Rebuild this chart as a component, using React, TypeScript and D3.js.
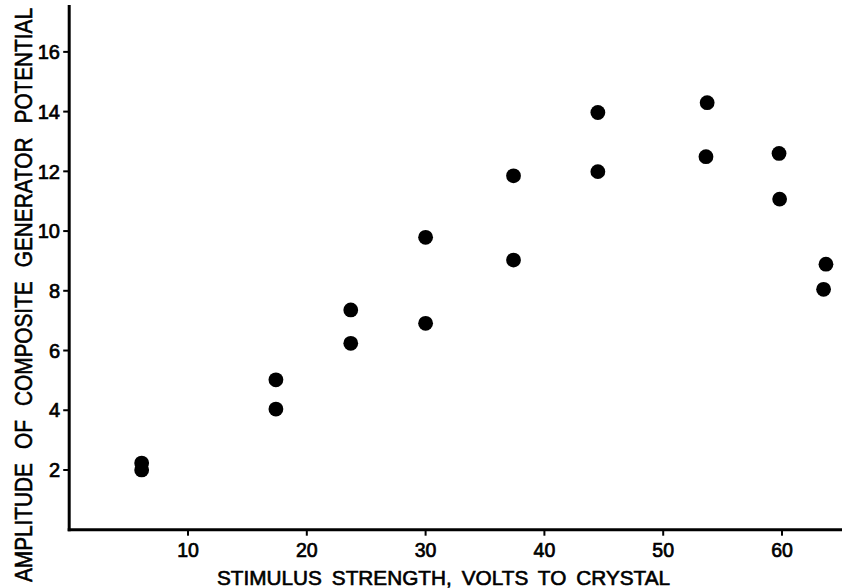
import React from "react";
import * as d3 from "d3";

const stimulusVolts = [6.1, 6.1, 17.4, 17.4, 23.7, 23.7, 30.0, 30.0, 37.4, 37.4, 44.5, 44.5, 53.7, 53.6, 59.75, 59.8, 63.7, 63.5];
const amplitude = [2.23, 2.0, 5.02, 4.04, 7.36, 6.24, 9.79, 6.91, 11.85, 9.03, 13.97, 11.99, 14.3, 12.49, 12.6, 11.07, 8.89, 8.05];
const xTicks = [10, 20, 30, 40, 50, 60];
const yTicks = [2, 4, 6, 8, 10, 12, 14, 16];
const xTitle = "STIMULUS STRENGTH, VOLTS TO CRYSTAL";
const yTitle = "AMPLITUDE OF COMPOSITE GENERATOR POTENTIAL";

const W = 843;
const H = 588;
const FONT = "'Liberation Sans', Arial, sans-serif";

export default function App() {
  const x = d3.scaleLinear().domain([0, 65.05]).range([69.2, 842]);
  const y = d3.scaleLinear().domain([0, 17.57]).range([529.7, 5]);
  const pts = stimulusVolts.map((v, i) => ({ x: v, y: amplitude[i] }));

  return (
    <svg
      width={W}
      height={H}
      viewBox={`0 0 ${W} ${H}`}
      style={{ position: "absolute", left: 0, top: 0, background: "#fff" }}
    >
      <rect x={0} y={0} width={W} height={H} fill="#fff" />
      {/* axes */}
      <line x1={x(0)} x2={x(0)} y1={y(17.57)} y2={y(0) + 1.5} stroke="#000" strokeWidth={3} />
      <line x1={x(0) - 1.5} x2={x(65.05)} y1={y(0)} y2={y(0)} stroke="#000" strokeWidth={3} />
      {xTicks.map((t) => (
        <g key={"xt" + t}>
          <line x1={x(t)} x2={x(t)} y1={y(0)} y2={y(0) + 6} stroke="#000" strokeWidth={2} />
          <text
            x={x(t)}
            y={557}
            textAnchor="middle"
            fontFamily={FONT}
            fontSize={19.5}
            fill="#000"
            stroke="#000"
            strokeWidth={0.7}
          >
            {t}
          </text>
        </g>
      ))}
      {yTicks.map((t) => (
        <g key={"yt" + t}>
          <line x1={x(0) - 6} x2={x(0)} y1={y(t)} y2={y(t)} stroke="#000" strokeWidth={2} />
          <text
            x={60}
            y={y(t)}
            dy="0.36em"
            textAnchor="end"
            fontFamily={FONT}
            fontSize={20}
            fill="#000"
            stroke="#000"
            strokeWidth={0.7}
          >
            {t}
          </text>
        </g>
      ))}
      {/* points */}
      {pts.map((p, i) => (
        <circle key={i} cx={x(p.x)} cy={y(p.y)} r={7.4} fill="#000" />
      ))}
      {/* titles */}
      <g transform={`translate(443.5, 584.5) scale(1.1, 1)`}>
        <text
          x={0}
          y={0}
          textAnchor="middle"
          fontFamily={FONT}
          fontSize={19.5}
          wordSpacing={4}
          textLength={412}
          lengthAdjust="spacingAndGlyphs"
          fill="#000"
          stroke="#000"
          strokeWidth={0.6}
        >
          {xTitle}
        </text>
      </g>
      <g transform={`translate(31.5, 295) scale(1.2, 1) rotate(-90)`}>
        <text
          x={0}
          y={0}
          textAnchor="middle"
          fontFamily={FONT}
          fontSize={20}
          wordSpacing={8}
          textLength={574}
          lengthAdjust="spacingAndGlyphs"
          fill="#000"
          stroke="#000"
          strokeWidth={0.5}
        >
          {yTitle}
        </text>
      </g>
    </svg>
  );
}
